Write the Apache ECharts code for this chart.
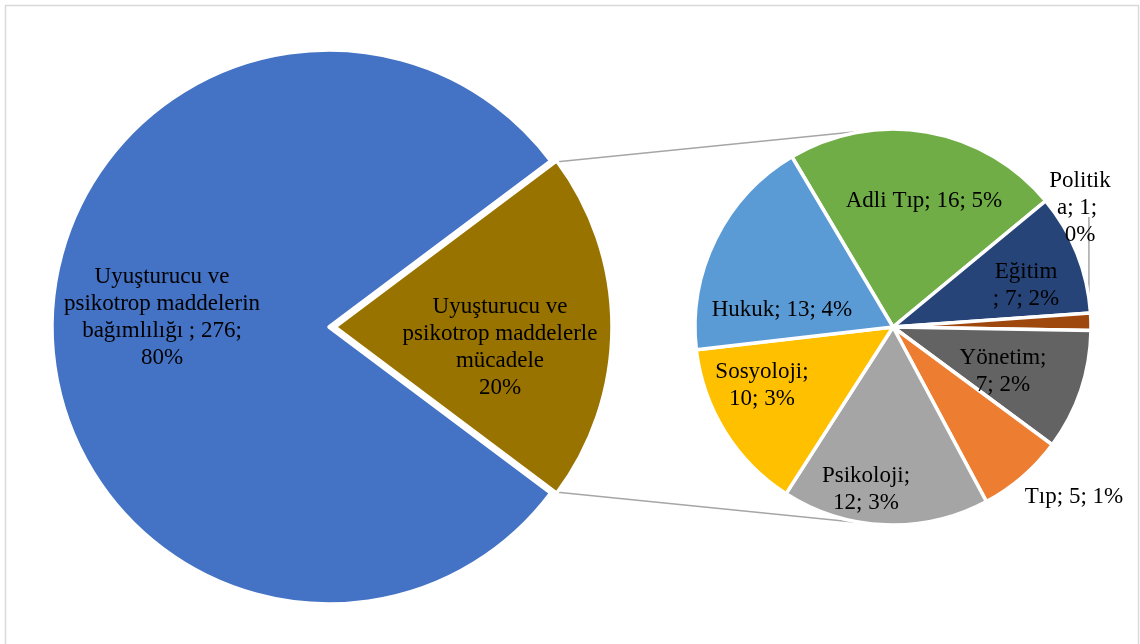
<!DOCTYPE html>
<html><head><meta charset="utf-8">
<script src="https://cdn.jsdelivr.net/npm/echarts@6/dist/echarts.min.js"></script>
<style>html,body{margin:0;padding:0;background:#fff}#c{width:1140px;height:644px}</style>
</head><body><div id="c"></div>
<script>
// ---- data ----
const mainNames = ['Uyuşturucu ve psikotrop maddelerle mücadele', 'Uyuşturucu ve psikotrop maddelerin bağımlılığı '];
const mainOwnValue = 276;
const subNames = ['Adli Tıp', 'Eğitim ', 'Politika', 'Yönetim', 'Tıp', 'Psikoloji', 'Sosyoloji', 'Hukuk'];
const subValues = [16, 7, 1, 7, 5, 12, 10, 13];

// ---- styles / layout ----
const mainColors = ['#997300', '#4472C4'];
const subColors = ['#70AD47', '#264478', '#9E480E', '#636363', '#ED7D31', '#A5A5A5', '#FFC000', '#5B9BD5'];
const MAIN_C = [329, 327], MAIN_R = 277, EXPLODE = 6;
const SUB_C = [893, 327], SUB_R = 198, SUB_START = 120.7;
const BORDER = 3.5;
const FONT = 'Liberation Serif, Times New Roman, serif';
const mainWrap = [[2, 2, 1, 1], [2, 2, 3, 1]];
const subWrap = [null, [1, 3], 'break', [1, 2], null, [1, 2], [1, 2], null];
const mainLabelOff = [[171, 20], [-167, -10]];
const subLabelOff = [[31, -126], [133, -42], [187, -119], [110, 44], [181, 170], [-27, 162], [-131, 58], [-111, -17]];

const subTotal = subValues.reduce((a, b) => a + b, 0);
const mainValues = [subTotal, mainOwnValue];
const grandTotal = subTotal + mainOwnValue;
const pct = v => Math.round(v / grandTotal * 100);

function wrapWords(text, spec) {
  if (!Array.isArray(spec)) return text;
  const w = text.split(' ').filter(s => s.length);
  const lines = []; let k = 0;
  spec.forEach(n => { lines.push(w.slice(k, k + n).join(' ')); k += n; });
  if (k < w.length) lines.push(w.slice(k).join(' '));
  return lines.join('\n');
}

const mainStart = 360 * subTotal / grandTotal / 2;
const BROWN_C = [MAIN_C[0] + EXPLODE, MAIN_C[1]];

// visible index: which slice a main-pie series actually draws
function mainDataFor(visibleIdx) {
  return mainNames.map((n, i) => {
    const txt = i === 0 ? `${n} ${pct(mainValues[i])}%` : `${n}; ${mainValues[i]}; ${pct(mainValues[i])}%`;
    const vis = i === visibleIdx;
    return {
      name: n, value: mainValues[i],
      itemStyle: vis ? { color: mainColors[i] } : { color: 'rgba(0,0,0,0)', borderWidth: 0 },
      label: vis ? { formatter: wrapWords(txt, mainWrap[i]) } : { show: false }
    };
  });
}
const subData = subNames.map((n, i) => {
  const txt = `${n}; ${subValues[i]}; ${pct(subValues[i])}%`;
  const lab = { formatter: wrapWords(txt, subWrap[i]) };
  if (subWrap[i] === 'break') { lab.width = 64; lab.overflow = 'break'; }
  return { name: n, value: subValues[i], itemStyle: { color: subColors[i] }, label: lab };
});

// ---- connector lines (tangents from exploded slice corners to secondary pie) ----
const rad = d => d * Math.PI / 180;
const rv = MAIN_R - BORDER / 2;
const cornerTop = [BROWN_C[0] + rv * Math.cos(rad(mainStart)), BROWN_C[1] - rv * Math.sin(rad(mainStart))];
const cornerBot = [BROWN_C[0] + rv * Math.cos(rad(mainStart)), BROWN_C[1] + rv * Math.sin(rad(mainStart))];
function tangent(P, upper) {
  const dx = SUB_C[0] - P[0], dy = SUB_C[1] - P[1];
  const d = Math.hypot(dx, dy);
  const th = Math.atan2(dy, dx), a = Math.asin(SUB_R / d);
  const L = Math.sqrt(d * d - SUB_R * SUB_R);
  const ang = upper ? th - a : th + a;
  return [P[0] + L * Math.cos(ang), P[1] + L * Math.sin(ang)];
}
const tTop = tangent(cornerTop, true), tBot = tangent(cornerBot, false);

// Politika leader line
let cum = 0; for (let i = 0; i < 2; i++) cum += subValues[i];
const polMid = SUB_START - 360 * (cum + subValues[2] / 2) / subTotal;
const polPt = [SUB_C[0] + (SUB_R - 2) * Math.cos(rad(polMid)), SUB_C[1] - (SUB_R - 2) * Math.sin(rad(polMid))];
const polLabelY = SUB_C[1] + subLabelOff[2][1];

const lineStyle = { stroke: '#A6A6A6', lineWidth: 1.5 };
const labelBase = { show: true, position: 'inside', color: '#000', fontFamily: FONT, fontSize: 23, lineHeight: 27, align: 'center' };

function mainSeries(center, visibleIdx) {
  return {
    type: 'pie', center: center, radius: MAIN_R, startAngle: mainStart, clockwise: true,
    avoidLabelOverlap: false, selectedMode: false,
    itemStyle: { borderColor: '#fff', borderWidth: BORDER },
    label: labelBase, emphasis: { disabled: true }, labelLine: { show: false },
    labelLayout: p => ({ x: MAIN_C[0] + mainLabelOff[p.dataIndex][0], y: MAIN_C[1] + mainLabelOff[p.dataIndex][1], align: 'center', verticalAlign: 'middle' }),
    data: mainDataFor(visibleIdx)
  };
}

const chart = echarts.init(document.getElementById('c'), null, { renderer: 'canvas' });
chart.setOption({
  animation: false,
  backgroundColor: '#fff',
  graphic: [
    { type: 'rect', z: 0, shape: { x: 5.5, y: 5.5, width: 1133, height: 660 }, style: { fill: 'none', stroke: '#D9D9D9', lineWidth: 1.5 } },
    { type: 'line', z: 0, shape: { x1: cornerTop[0], y1: cornerTop[1], x2: tTop[0], y2: tTop[1] }, style: lineStyle },
    { type: 'line', z: 0, shape: { x1: cornerBot[0], y1: cornerBot[1], x2: tBot[0], y2: tBot[1] }, style: lineStyle },
    { type: 'line', z: 0, shape: { x1: polPt[0], y1: polLabelY + 9, x2: polPt[0], y2: polPt[1] }, style: lineStyle }
  ],
  series: [
    mainSeries(MAIN_C, 1),
    mainSeries(BROWN_C, 0),
    {
      type: 'pie', center: SUB_C, radius: SUB_R, startAngle: SUB_START, clockwise: true, avoidLabelOverlap: false,
      itemStyle: { borderColor: '#fff', borderWidth: BORDER },
      label: labelBase, emphasis: { disabled: true }, labelLine: { show: false },
      labelLayout: p => ({ x: SUB_C[0] + subLabelOff[p.dataIndex][0], y: SUB_C[1] + subLabelOff[p.dataIndex][1], align: 'center', verticalAlign: 'middle' }),
      data: subData
    }
  ]
});
</script></body></html>
